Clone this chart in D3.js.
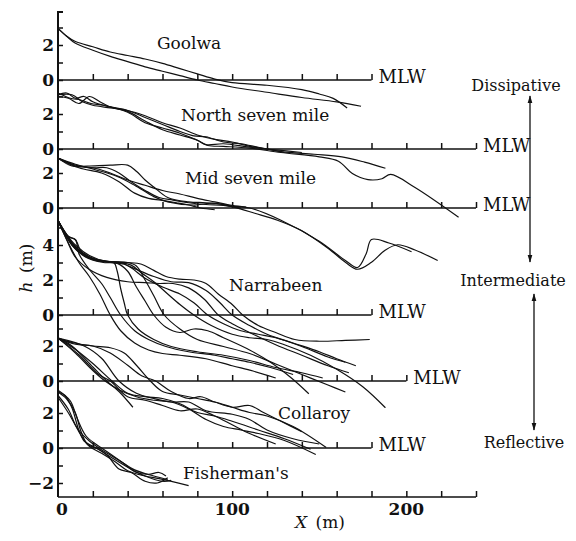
<!DOCTYPE html>
<html>
<head>
<meta charset="utf-8">
<script src="https://cdnjs.cloudflare.com/ajax/libs/d3/7.8.5/d3.min.js"></script>
<style>
  body { margin: 0; background: #fff; }
  text { font-family: "DejaVu Serif", "Liberation Serif", serif; fill: #111; }
</style>
</head>
<body>
<div id="chart"></div>
<script>
// beach profiles, [X (m), h (m)] per survey line
var goolwa = [
  [[0,2.95],[5,2.5],[10,2.2],[20,1.9],[30,1.6],[40,1.4],[50,1.2],[60,0.95],[70,0.65],[80,0.35],[90,0.05],[100,-0.15],[120,-0.3],[140,-0.55],[150,-0.8],[158,-1.05],[166,-1.6]],
  [[0,2.95],[5,2.5],[10,2.1],[20,1.7],[30,1.35],[40,1.05],[50,0.75],[60,0.5],[70,0.25],[80,0],[90,-0.2],[100,-0.4],[120,-0.7],[140,-1.0],[160,-1.25],[174,-1.5]]
];
var northSeven = [
  [[0,3.1],[5,3.2],[10,2.9],[15,3.0],[20,2.7],[28,2.45],[40,2.2],[50,1.8],[60,1.4],[70,1.0],[78,0.75],[85,0.7],[95,0.4],[105,0.3],[115,0.1],[128,-0.15],[147,-0.3],[163,-0.45],[176,-0.75],[188,-1.1]],
  [[0,3.0],[6,2.9],[12,2.6],[18,3.0],[24,2.7],[30,2.4],[40,2.15],[50,1.6],[60,1.1],[70,0.8],[80,0.5],[86,0.2],[95,0.15],[110,0.05],[128,-0.2],[150,-0.45],[161,-0.7],[169,-1.4],[178,-1.75],[186,-1.7],[191,-1.45],[205,-2.2],[230,-3.9]],
  [[0,3.1],[8,3.1],[14,2.7],[20,2.5],[30,2.35],[40,2.2],[50,1.9],[60,1.5],[70,1.2],[80,0.8],[90,0.55],[100,0.4],[110,0.15],[120,0.0],[130,-0.2]],
  [[0,3.2],[7,2.9],[13,2.8],[19,2.6],[26,2.5],[40,2.1],[50,1.5],[60,1.2],[70,0.9],[80,0.5],[85,0.25],[95,0.3],[110,0.1],[125,-0.05],[140,-0.2]]
];
var midSeven = [
  [[0,2.85],[8,2.4],[17,2.4],[30,2.45],[40,2.45],[45,2.1],[50,1.6],[55,1.2],[63,0.6],[75,0.35],[85,0.3],[95,0.2],[100,0.1],[110,0.0],[128,-0.7],[150,-1.9],[165,-3.0],[172,-3.4],[177,-2.6],[180,-1.8],[190,-2.0],[203,-2.5]],
  [[0,2.85],[10,2.5],[21,2.2],[34,1.8],[44,1.3],[55,0.65],[63,0.35],[78,0.17],[89,0.28],[101,0.05],[113,-0.3],[126,-0.7],[140,-1.3],[155,-2.3],[165,-3.1],[172,-3.5],[180,-3.1],[188,-2.4],[195,-2.1],[205,-2.4],[218,-3.0]],
  [[0,2.85],[12,2.3],[25,2.0],[35,1.5],[44,0.85],[52,0.55],[59,0.45],[68,0.3],[75,0.17],[82,0.0],[90,-0.1]],
  [[0,2.85],[10,2.45],[20,2.3],[28,2.3],[35,2.0],[42,1.5],[50,1.0],[58,0.6],[66,0.45],[75,0.3],[85,0.2],[95,0.15],[105,0.0]],
  [[0,2.85],[10,2.4],[20,2.3],[30,2.0],[40,1.6],[50,1.3],[60,1.0],[70,0.8],[80,0.55],[90,0.35],[100,0.15],[108,0.05]]
];
var narrabeen = [
  [[0,5.4],[5,4.6],[10,4.0],[18,3.4],[28,3.05],[40,3.0],[48,2.9],[55,2.55],[62,2.2],[70,2.05],[78,2.0],[85,1.8],[92,1.2],[100,0.6],[106,0],[115,-0.6],[125,-1.0],[136,-1.4],[150,-1.5],[165,-1.45],[179,-1.4]],
  [[0,5.4],[6,4.4],[12,3.7],[20,3.2],[30,3.0],[38,2.9],[45,2.6],[55,2.2],[65,1.9],[75,1.85],[85,1.4],[93,0.7],[100,0],[110,-0.6],[120,-1.1],[135,-1.6],[150,-2.1],[160,-2.5],[171,-2.9]],
  [[0,5.4],[5,4.3],[10,3.3],[18,2.6],[28,2.15],[40,1.9],[50,1.85],[58,1.8],[66,1.8],[75,1.55],[84,0.9],[92,0],[100,-0.5],[110,-1.0],[125,-1.7],[140,-2.3],[155,-2.9],[167,-3.3]],
  [[0,5.4],[8,4.1],[16,3.4],[26,3.05],[36,3.0],[42,2.7],[50,2.1],[60,1.6],[70,1.2],[78,0.7],[86,0],[95,-0.5],[105,-0.9],[115,-1.1],[125,-1.3],[140,-1.8],[155,-2.4],[165,-2.7]],
  [[0,5.4],[8,4.0],[15,3.4],[25,3.1],[35,3.0],[42,2.85],[48,2.4],[55,1.9],[63,1.2],[70,0.6],[78,0],[88,-0.6],[100,-1.1],[110,-1.3],[120,-1.4],[130,-1.7],[145,-2.3],[160,-3.1],[175,-4.1],[188,-5.3]],
  [[0,5.4],[10,3.9],[20,3.25],[30,3.05],[40,3.0],[45,2.8],[50,2.0],[55,1.1],[61,0],[70,-0.8],[80,-1.4],[95,-1.8],[110,-2.2],[125,-2.8],[140,-3.4],[155,-4.0],[165,-4.4]],
  [[0,5.4],[8,4.0],[16,3.3],[26,3.0],[34,2.95],[40,2.5],[45,1.6],[50,0.8],[55,0],[62,-0.7],[70,-1.0],[78,-0.8],[86,-0.9],[95,-1.3],[110,-2.0],[122,-2.7],[134,-3.6],[144,-4.5]],
  [[0,5.4],[6,4.5],[10,4.3],[14,3.5],[22,3.1],[32,3.0],[34,2.5],[36,1.5],[38,0.7],[40,0],[46,-0.8],[55,-1.4],[65,-1.8],[80,-2.1],[95,-2.3],[110,-2.6],[125,-3.0],[140,-3.3],[152,-3.6]],
  [[0,5.4],[5,4.5],[10,4.3],[12,3.5],[18,2.6],[25,1.8],[30,1.0],[36,0],[44,-0.9],[52,-1.4],[62,-1.8],[75,-2.1],[90,-2.3],[100,-2.5],[110,-2.7],[122,-3.0],[135,-3.4]],
  [[0,5.4],[6,4.1],[12,3.0],[18,2.2],[24,1.2],[30,0],[36,-0.9],[44,-1.6],[52,-2.0],[60,-2.2],[70,-2.3],[85,-2.5],[100,-2.9],[112,-3.2],[125,-3.6]]
];
var collaroy = [
  [[0,2.45],[8,2.0],[20,0.8],[28,0],[35,-0.6],[43,-1.5]],
  [[0,2.45],[10,1.8],[20,1.0],[31,0],[40,-0.7],[50,-0.9],[60,-1.0],[70,-1.3],[80,-1.8],[90,-2.0],[100,-2.3],[115,-2.8],[130,-3.3],[145,-3.9]],
  [[0,2.45],[10,1.6],[20,0.6],[27,0],[35,-0.5],[45,-0.9],[55,-1.1],[65,-1.2],[75,-1.6],[85,-2.2],[95,-2.6],[105,-2.8],[115,-3.0],[130,-3.4],[148,-4.2]],
  [[0,2.45],[8,2.2],[20,2.0],[30,1.9],[38,1.6],[45,0.9],[53,0],[60,-0.6],[70,-0.8],[80,-1.0],[90,-1.2],[100,-1.5],[110,-1.8],[120,-2.0],[135,-2.6],[154,-3.8]],
  [[0,2.45],[10,2.1],[20,2.0],[30,1.6],[40,0.9],[48,0.3],[56,0],[65,-0.6],[75,-1.0],[82,-0.9],[90,-1.2],[100,-1.5],[110,-1.4],[118,-1.8],[128,-2.3],[140,-2.9]],
  [[0,2.45],[12,1.5],[23,0.4],[30,0],[40,-0.9],[50,-1.1],[60,-1.4],[70,-1.7],[80,-1.6],[90,-2.0],[100,-2.5],[110,-3.0],[125,-3.6]],
  [[0,2.45],[15,2.0],[25,1.3],[35,0],[45,-0.7],[55,-1.0],[65,-1.2],[75,-1.2],[85,-1.7],[100,-1.9],[110,-2.2],[120,-2.8],[135,-3.3],[150,-3.6]]
];
var fishermans = [
  [[0,3.2],[5,2.8],[10,2.0],[13,1.0],[17,0.2],[22,0],[30,-0.5],[40,-1.1],[50,-1.6],[60,-1.9],[65,-1.85]],
  [[0,3.2],[4,3.0],[8,2.3],[12,1.0],[15,0.4],[20,0.1],[28,-0.4],[35,-1.2],[42,-1.4],[50,-1.9],[57,-2.0],[63,-1.7]],
  [[0,3.0],[6,2.2],[10,1.3],[14,0.6],[18,0.1],[25,-0.3],[33,-0.8],[40,-1.3],[50,-1.6],[58,-1.75],[75,-2.15]],
  [[0,3.3],[7,2.7],[11,1.7],[16,0.7],[22,0.2],[28,-0.2],[38,-0.9],[45,-1.4],[52,-1.5],[58,-1.4],[62,-1.6]],
  [[0,2.9],[6,2.0],[12,1.0],[18,0.4],[25,-0.1],[35,-0.7],[44,-1.25],[55,-1.6],[63,-1.8]]
];

var siteNames = ["Goolwa", "North seven mile", "Mid seven mile", "Narrabeen", "Collaroy", "Fisherman's"];
var siteProfiles = [goolwa, northSeven, midSeven, narrabeen, collaroy, fishermans];
var mlwEnd = [180, 240, 240, 180, 200, 180];     // length of each MLW line (m)
var hTicks = [[0,1,2,3], [0,1,2,3], [0,1,2], [0,1,2,3,4,5], [0,1,2,3], [-2,-1,0,1,2]];
var xTickLabels = [0, 100, 200];
var stateLabels = ["Dissipative", "Intermediate", "Reflective"];

// layout
var svgWidth = 576, svgHeight = 541;
var zeroY = [80, 149, 208, 315, 381, 448];   // pixel row of each panel's MLW
var pxPerM = 17.5;
var nameXY = [[157,43],[181,115],[185,178],[229,285],[278,413],[183,473]];

var svg = d3.select("#chart").append("svg")
  .attr("width", svgWidth)
  .attr("height", svgHeight);

var x = d3.scaleLinear().domain([0, 240]).range([58, 476]);
var bottomY = 497;

var line = d3.line()
  .x(d => x(d[0]))
  .curve(d3.curveCatmullRom.alpha(0.5));

siteProfiles.forEach(function(profiles, i) {
  var y = d3.scaleLinear().domain([0, 1]).range([zeroY[i], zeroY[i] - pxPerM]);

  // profile lines
  svg.append("g").selectAll("path").data(profiles).enter().append("path")
    .attr("d", d => line.y(p => y(p[1]))(d))
    .attr("fill", "none")
    .attr("stroke", "#111")
    .attr("stroke-width", 1.2);

  // MLW line with inward ticks
  var g = svg.append("g").attr("transform", `translate(0,${zeroY[i]})`);
  g.append("line")
    .attr("x1", x(0)).attr("x2", x(mlwEnd[i]))
    .attr("stroke", "#111").attr("stroke-width", 2);
  g.call(d3.axisBottom(x).tickValues(d3.range(20, mlwEnd[i] + 1, 20)).tickSize(-6).tickFormat(""))
    .call(a => a.select(".domain").remove())
    .selectAll("line").attr("stroke", "#111").attr("stroke-width", 1.5);

  svg.append("text")
    .attr("x", x(mlwEnd[i]) + 7)
    .attr("y", zeroY[i] + 3)
    .attr("font-size", 18)
    .text("MLW");

  // h ticks on the left axis
  svg.append("g").attr("transform", "translate(58,0)")
    .call(d3.axisLeft(y).tickValues(hTicks[i]).tickSizeInner(-5).tickSizeOuter(0).tickPadding(4)
      .tickFormat(d => d % 2 === 0 ? (d < 0 ? "\u2212" + (-d) : d) : ""))
    .call(a => a.select(".domain").remove())
    .call(a => a.selectAll("line").attr("stroke", "#111").attr("stroke-width", 1.5))
    .call(a => a.selectAll("text").attr("font-size", 17).attr("font-weight", "bold")
      .attr("font-family", "DejaVu Serif").attr("fill", "#111"));

  svg.append("text")
    .attr("x", nameXY[i][0])
    .attr("y", nameXY[i][1])
    .attr("dy", "0.35em")
    .attr("font-size", 17)
    .text(siteNames[i]);
});

// left axis line
svg.append("path")
  .attr("d", `M63,12H58V${bottomY}`)
  .attr("fill", "none").attr("stroke", "#111").attr("stroke-width", 2);

// bottom axis
var xAxis = svg.append("g").attr("transform", `translate(0,${bottomY})`);
xAxis.append("line").attr("x1", x(0)).attr("x2", x(240))
  .attr("stroke", "#111").attr("stroke-width", 2);
xAxis.call(d3.axisBottom(x).tickValues(d3.range(20, 241, 20)).tickSize(-6).tickFormat(""))
  .call(a => a.select(".domain").remove())
  .selectAll("line").attr("stroke", "#111").attr("stroke-width", 1.5);
xAxis.selectAll(".xlab").data(xTickLabels).enter().append("text")
  .attr("class", "xlab")
  .attr("x", d => x(d) + (d === 0 ? 4 : 0))
  .attr("y", 18)
  .attr("text-anchor", "middle")
  .attr("font-size", 17)
  .attr("font-weight", "bold")
  .text(d => d);

// axis titles
var xt = svg.append("text").attr("x", 320).attr("y", 528).attr("text-anchor", "middle").attr("font-size", 17);
xt.append("tspan").attr("font-style", "italic").text("X");
xt.append("tspan").text("\u2002(m)");

var yt = svg.append("text")
  .attr("transform", "translate(32,268) rotate(-90)")
  .attr("text-anchor", "middle").attr("font-size", 17);
yt.append("tspan").attr("font-style", "italic").text("h");
yt.append("tspan").text("\u2002(m)");

// state arrows
var defs = svg.append("defs");
defs.append("marker").attr("id", "arr")
  .attr("viewBox", "0 0 10 10").attr("refX", 9).attr("refY", 5)
  .attr("markerWidth", 6).attr("markerHeight", 8).attr("orient", "auto")
  .append("path").attr("d", "M0,2L10,5L0,8Z").attr("fill", "#111");

var stateY = [85, 280, 442];
svg.selectAll(".state").data(stateLabels).enter().append("text")
  .attr("class", "state")
  .attr("x", (d, i) => [516, 513, 524][i])
  .attr("y", (d, i) => stateY[i])
  .attr("dy", "0.35em")
  .attr("text-anchor", "middle")
  .attr("font-size", 16)
  .text(d => d);

[[530, 178, 96], [530, 178, 262], [534, 360, 294], [534, 360, 430]].forEach(function(a) {
  svg.append("line")
    .attr("x1", a[0]).attr("y1", a[1]).attr("x2", a[0]).attr("y2", a[2])
    .attr("stroke", "#111").attr("stroke-width", 1.3)
    .attr("marker-end", "url(#arr)");
});
</script>
</body>
</html>
